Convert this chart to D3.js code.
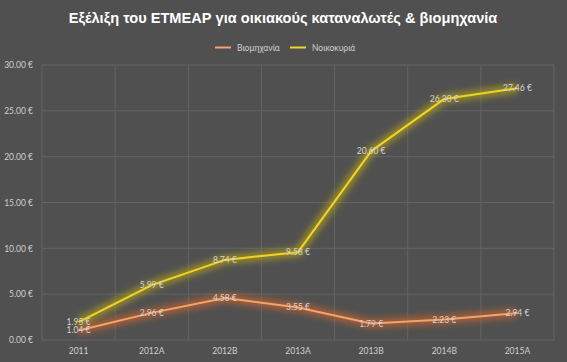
<!DOCTYPE html>
<html>
<head>
<meta charset="utf-8">
<script src="https://cdn.jsdelivr.net/npm/d3@7"></script>
<style>
  body { margin: 0; background: #505050; }
  svg { display: block; }
</style>
</head>
<body>
<div class="chart"></div>
<script>
var categories = ["2011", "2012A", "2012B", "2013A", "2013B", "2014B", "2015A"];
var industry = [1.04, 2.96, 4.58, 3.55, 1.79, 2.23, 2.94];
var households = [1.95, 5.99, 8.74, 9.58, 20.60, 26.30, 27.46];
var yTicks = [0, 5, 10, 15, 20, 25, 30];
var seriesNames = ["Βιομηχανία", "Νοικοκυριά"];

var svgWidth = 567;
var svgHeight = 362;
var margin = { top: 65, right: 13, bottom: 22, left: 42 };
var width = svgWidth - margin.left - margin.right;
var height = svgHeight - margin.top - margin.bottom;

var svg = d3.select(".chart")
  .append("svg")
  .attr("width", svgWidth)
  .attr("height", svgHeight)
  .style("font-family", "Lato, 'Open Sans', sans-serif");

svg.append("rect")
  .attr("width", svgWidth)
  .attr("height", svgHeight)
  .attr("fill", "#505050");

var defs = svg.append("defs");
defs.append("filter")
  .attr("id", "glow")
  .attr("x", "-20%").attr("y", "-50%")
  .attr("width", "140%").attr("height", "200%")
  .append("feGaussianBlur")
  .attr("stdDeviation", 3);

var chart = svg.append("g")
  .attr("transform", "translate(" + margin.left + "," + margin.top + ")");

var xBand = d3.scaleBand().domain(categories).range([0, width]);
var yScale = d3.scaleLinear().domain([0, 30]).range([height, 0]);
var xPos = function(d, i) { return xBand(categories[i]) + xBand.bandwidth() / 2; };

// gridlines
chart.selectAll(".hgrid")
  .data(yTicks)
  .enter().append("line")
  .attr("x1", 0).attr("x2", width)
  .attr("y1", function(d) { return yScale(d); })
  .attr("y2", function(d) { return yScale(d); })
  .attr("stroke", "#646464")
  .attr("stroke-width", 1);

var vlines = categories.map(function(c) { return xBand(c); }).concat([width]);
chart.selectAll(".vgrid")
  .data(vlines)
  .enter().append("line")
  .attr("x1", function(d) { return d; })
  .attr("x2", function(d) { return d; })
  .attr("y1", 0).attr("y2", height)
  .attr("stroke", "#646464")
  .attr("stroke-width", 1);

// axis labels
var leftAxis = d3.axisLeft(yScale)
  .tickValues(yTicks)
  .tickSize(0)
  .tickPadding(9)
  .tickFormat(function(d) { return d3.format(".2f")(d) + " €"; });
var yAxisG = chart.append("g").call(leftAxis);
yAxisG.select(".domain").remove();
yAxisG.selectAll("text").attr("fill", "#cfcfcf").style("font-size", "8.5px").style("font-family", "Lato, sans-serif");

var bottomAxis = d3.axisBottom(xBand).tickSize(0).tickPadding(8);
var xAxisG = chart.append("g").attr("transform", "translate(0," + height + ")").call(bottomAxis);
xAxisG.select(".domain").remove();
xAxisG.selectAll("text").attr("fill", "#cfcfcf").style("font-size", "8.5px").style("font-family", "Lato, sans-serif");

var line = d3.line()
  .x(xPos)
  .y(function(d) { return yScale(d); });

var series = [
  { values: industry, color: "#f4a36c", glow: "#c8642c" },
  { values: households, color: "#f2d324", glow: "#b0a01c" }
];

series.forEach(function(s) {
  chart.append("path")
    .datum(s.values)
    .attr("d", line)
    .attr("fill", "none")
    .attr("stroke", s.glow)
    .attr("stroke-width", 9)
    .attr("stroke-opacity", 0.7)
    .attr("stroke-linejoin", "round")
    .attr("filter", "url(#glow)");
});
series.forEach(function(s) {
  chart.append("path")
    .datum(s.values)
    .attr("d", line)
    .attr("fill", "none")
    .attr("stroke", s.color)
    .attr("stroke-width", 2)
    .attr("stroke-linejoin", "round");
});

// data labels
series.forEach(function(s) {
  chart.selectAll(null)
    .data(s.values)
    .enter().append("text")
    .attr("x", xPos)
    .attr("y", function(d) { return yScale(d) + 3; })
    .attr("text-anchor", "middle")
    .attr("fill", "#d4d4d4")
    .style("font-size", "8.5px")
    .text(function(d) { return d3.format(".2f")(d) + " €"; });
});

// title
svg.append("text")
  .attr("x", 283)
  .attr("y", 23)
  .attr("text-anchor", "middle")
  .attr("fill", "#ffffff")
  .style("font-family", "'Liberation Sans', Arial, sans-serif")
  .style("font-weight", "bold")
  .style("font-size", "14.6px")
  .text("Εξέλιξη του ΕΤΜΕΑΡ για οικιακούς καταναλωτές & βιομηχανία");

// legend
var legendX = [215, 290];
var legend = svg.selectAll(".legend")
  .data(seriesNames)
  .enter().append("g")
  .attr("transform", function(d, i) { return "translate(" + legendX[i] + ",47.5)"; });
legend.append("line")
  .attr("x1", 0).attr("x2", 16)
  .attr("stroke", function(d, i) { return series[i].color; })
  .attr("stroke-width", 2);
legend.append("text")
  .attr("x", 22)
  .attr("y", 3)
  .attr("fill", "#cfcfcf")
  .style("font-size", "8.5px")
  .text(function(d) { return d; });
</script>
</body>
</html>
